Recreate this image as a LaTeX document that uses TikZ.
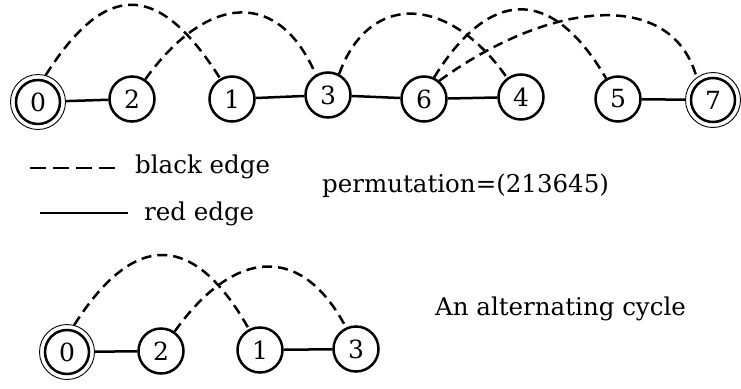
\documentclass[tikz,border=0pt]{standalone}
\usepackage{fontspec}
\setmainfont{DejaVu Serif}
\begin{document}
\begin{tikzpicture}[x=1pt,y=-1pt,
  vtx/.style={circle,draw,line width=2.5pt,minimum size=45pt,inner sep=0pt,font=\fontsize{25}{28}\selectfont},
  term/.style={circle,draw,line width=0.9pt,minimum size=55pt,inner sep=0pt,font=\fontsize{25}{28}\selectfont},
  ring/.style={line width=2.5pt},
  blk/.style={line width=2.5pt,dash pattern=on 10pt off 6pt},
  redge/.style={line width=2.5pt},
  lbl/.style={anchor=base west,inner sep=0pt,font=\fontsize{24.5}{28}\selectfont}]
\useasboundingbox (0,0) rectangle (741,388);
% top row
\node[term] (t0) at (38,102) {0};
\draw[ring] (t0.center) circle[radius=22pt];
\node[vtx] (t2) at (132,99) {2};
\node[vtx] (t1) at (232,99) {1};
\node[vtx] (t3) at (328,95) {3};
\node[vtx] (t6) at (424,99) {6};
\node[vtx] (t4) at (521,97) {4};
\node[vtx] (t5) at (618,99) {5};
\node[term] (t7) at (713,100) {7};
\draw[ring] (t7.center) circle[radius=22pt];
% red edges
\draw[redge] (t0) -- (t2);
\draw[redge] (t1) -- (t3);
\draw[redge] (t3) -- (t6);
\draw[redge] (t6) -- (t4);
\draw[redge] (t5) -- (t7);
% black edges
\draw[blk] (t0.74) .. controls +(61,-96) and +(-61,-96) .. (t1.120);
\draw[blk] (t2.56) .. controls +(62,-86) and +(-37,-86) .. (t3.121);
\draw[blk] (t3.62) .. controls +(30,-83) and +(-58,-83) .. (t4.126);
\draw[blk] (t6.65) .. controls +(55,-89) and +(-55,-94) .. (t5.120);
\draw[blk] (t6.50) .. controls +(110,-80) and +(-25,-90) .. (t7.126);
% legend
\coordinate (d1) at (30,168); \coordinate (d2) at (119,168);
\draw[line width=2.5pt,dash pattern=on 16pt off 7pt] (d1) -- (d2);
\node[lbl] (lb) at (135,173) {black edge};
\coordinate (s1) at (40,213); \coordinate (s2) at (128,213);
\draw[redge] (s1) -- (s2);
\node[lbl] (lr) at (144,220) {red edge};
\node[lbl] (perm) at (322,192) {permutation=(213645)};
% bottom cycle
\node[term] (b0) at (67,352) {0};
\draw[ring] (b0.center) circle[radius=22pt];
\node[vtx] (b2) at (161,351) {2};
\node[vtx] (b1) at (260,350) {1};
\node[vtx] (b3) at (356,349) {3};
\draw[redge] (b0) -- (b2);
\draw[redge] (b1) -- (b3);
\draw[blk] (b0.75) .. controls +(61,-96) and +(-54,-96) .. (b1.118);
\draw[blk] (b2.55) .. controls +(60,-84) and +(-44,-84) .. (b3.115);
\node[lbl] (cyc) at (435,315) {An alternating cycle};
\end{tikzpicture}
\end{document}
